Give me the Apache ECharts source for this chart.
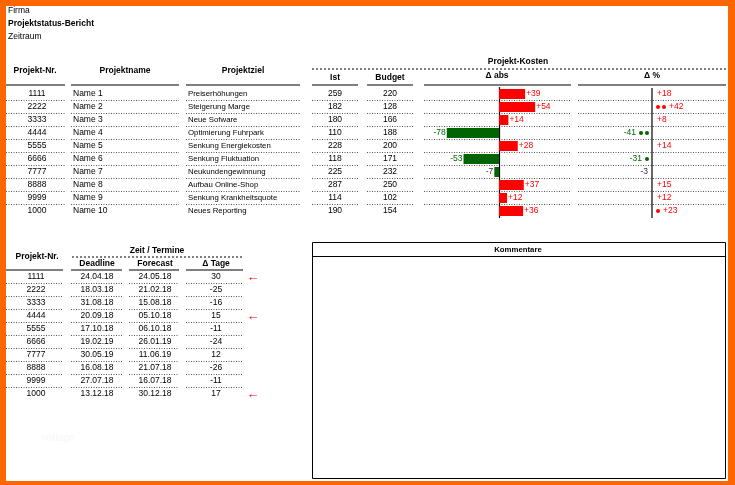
<!DOCTYPE html>
<html><head><meta charset="utf-8">
<script src="https://cdn.jsdelivr.net/npm/echarts@6/dist/echarts.min.js"></script>
<style>html,body{margin:0;padding:0;background:#ff6600}#main{width:735px;height:485px}</style>
</head><body><div id="main"></div>
<script>
var nr = ['1111','2222','3333','4444','5555','6666','7777','8888','9999','1000'];
var names = ['Name 1','Name 2','Name 3','Name 4','Name 5','Name 6','Name 7','Name 8','Name 9','Name 10'];
var ziele = ['Preiserhöhungen','Steigerung Marge','Neue Sofware','Optimierung Fuhrpark','Senkung Energiekosten','Senkung Fluktuation','Neukundengewinnung','Aufbau Online-Shop','Senkung Krankheitsquote','Neues Reporting'];
var ist = [259,182,180,110,228,118,225,287,114,190];
var budget = [220,128,166,188,200,171,232,250,102,154];
var deltaAbs = [39,54,14,-78,28,-53,-7,37,12,36];
var deltaPct = [18,42,8,-41,14,-31,-3,15,12,23];
var pctDots = [0,2,0,2,0,1,0,0,0,1];
var deadline = ['24.04.18','18.03.18','31.08.18','20.09.18','17.10.18','19.02.19','30.05.19','16.08.18','27.07.18','13.12.18'];
var forecast = ['24.05.18','21.02.18','15.08.18','05.10.18','06.10.18','26.01.19','11.06.19','21.07.18','16.07.18','30.12.18'];
var tage = [30,-25,-16,15,-11,-24,12,-26,-11,17];

var F = 'Liberation Sans';
var g = [];
function txt(x, y, s, o) {
  o = o || {};
  g.push({type:'text', x:x, y:y, style:{text:s, fill:o.c||'#000', font:(o.b?'bold ':'')+(o.s||8.5)+'px "'+F+'"', textAlign:o.a||'left', textVerticalAlign:'middle'}});
}
function ln(x1, y1, x2, y2, o) {
  o = o || {};
  g.push({type:'line', shape:{x1:x1,y1:y1,x2:x2,y2:y2}, style:{stroke:o.c||'#000', lineWidth:o.w||1, lineDash:o.d||null}});
}
var dot = [1,1.5];
g.push({type:'rect', z:-1, shape:{x:6,y:6,width:722,height:475}, style:{fill:'#fff'}});
txt(8,11,'Firma');
txt(8,24,'Projektstatus-Bericht',{b:1});
txt(8,37,'Zeitraum');

// obere Tabelle
var y0 = 94, dy = 13;
function ry(i){ return y0 + dy*i; }
txt(35,71,'Projekt-Nr.',{b:1,a:'center'});
txt(125,71,'Projektname',{b:1,a:'center'});
txt(243,71,'Projektziel',{b:1,a:'center'});
txt(335,78,'Ist',{b:1,a:'center'});
txt(390,78,'Budget',{b:1,a:'center'});
txt(518,62,'Projekt-Kosten',{b:1,a:'center'});
txt(497,76,'Δ abs',{b:1,a:'center'});
txt(652,76,'Δ %',{b:1,a:'center'});
ln(312,69,726,69,{d:[2,2]});
[[6,65],[71,179],[186,300],[312,358],[367,413],[424,571],[578,726]].forEach(function(c){
  ln(c[0],85,c[1],85,{w:1.2});
  for (var i=0;i<9;i++) ln(c[0],ry(i)+6.5,c[1],ry(i)+6.5,{c:'#555',d:dot});
});
for (var i=0;i<10;i++){
  txt(37,ry(i),nr[i],{a:'center'});
  txt(73,ry(i),names[i]);
  txt(188,ry(i),ziele[i],{s:7.8});
  txt(335,ry(i),String(ist[i]),{a:'center'});
  txt(390,ry(i),String(budget[i]),{a:'center'});
  var p = deltaPct[i], yy = ry(i);
  if (p >= 0) {
    var xs = 656;
    for (var k=0;k<pctDots[i];k++){ g.push({type:'circle',shape:{cx:xs+2,cy:yy,r:2},style:{fill:'#ff0000'}}); xs += 6; }
    txt(xs+1,yy,'+'+p,{c:'#ff0000'});
  } else {
    var xe = 649;
    for (var k=0;k<pctDots[i];k++){ g.push({type:'circle',shape:{cx:xe-2,cy:yy,r:2},style:{fill:'#006400'}}); xe -= 6; }
    txt(xe-1,yy,String(p),{c:p<-5?'#006400':'#333',a:'right'});
  }
}
ln(652,88,652,218,{w:1.2});

// untere Tabelle
var b0 = 277;
function by(i){ return b0 + dy*i; }
txt(37,257,'Projekt-Nr.',{b:1,a:'center'});
txt(157,251,'Zeit / Termine',{b:1,a:'center'});
ln(72,257,242,257,{d:[2,2]});
txt(97,264,'Deadline',{b:1,a:'center'});
txt(155,264,'Forecast',{b:1,a:'center'});
txt(216,264,'Δ Tage',{b:1,a:'center'});
[[6,63],[71,122],[129,179],[186,243]].forEach(function(c){
  ln(c[0],270,c[1],270,{w:1.2});
  for (var i=0;i<9;i++) ln(c[0],by(i)+6.5,c[1],by(i)+6.5,{c:'#555',d:dot});
});
for (var i=0;i<10;i++){
  txt(36,by(i),nr[i],{a:'center'});
  txt(97,by(i),deadline[i],{a:'center'});
  txt(155,by(i),forecast[i],{a:'center'});
  txt(216,by(i),String(tage[i]),{a:'center'});
  if (tage[i] >= 15) txt(253,by(i),'←',{c:'#ff0000',a:'center',s:13});
}
txt(58,438,'verlage',{c:'#f6f6f6',a:'center',s:10});

g.push({type:'rect',shape:{x:312.5,y:242.5,width:413,height:236},style:{fill:'none',stroke:'#000',lineWidth:1}});
ln(312,256.5,726,256.5);
txt(518,250,'Kommentare',{b:1,a:'center',s:7.8});

var myChart = echarts.init(document.getElementById('main'));
myChart.setOption({
  animation:false,
  backgroundColor:'#ff6600',
  grid:{left:424,width:146,top:y0-dy/2,height:dy*10},
  xAxis:{type:'value',min:-112,max:106,show:false},
  yAxis:{type:'category',inverse:true,data:nr,axisLine:{onZero:true,lineStyle:{color:'#000',width:1.2}},axisTick:{show:false},axisLabel:{show:false}},
  graphic:g,
  series:[{
    type:'bar', barWidth:10,
    data:deltaAbs.map(function(v){
      return {value:v,
        itemStyle:{color:v>=0?'#ff0000':'#006400'},
        label:{show:true,position:v>=0?'right':'left',distance:1,
          formatter:(v>0?'+':'')+v,color:v>=0?'#ff0000':(v<-10?'#006400':'#333'),
          fontSize:8.5,fontFamily:F}};
    })
  }]
});
</script></body></html>
